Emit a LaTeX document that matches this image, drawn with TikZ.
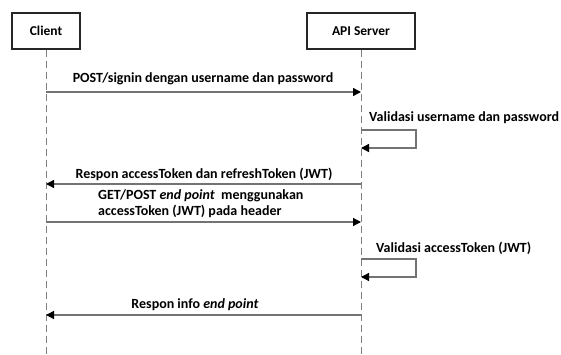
\documentclass[tikz,border=0pt]{standalone}
\usepackage{fontspec}
\setmainfont{Carlito}
\usetikzlibrary{arrows.meta, positioning}

\begin{document}
\begin{tikzpicture}[
  x=1pt, y=-1pt,
  actor/.style={draw=black!85, line width=1.4pt, minimum height=36pt, font=\bfseries\fontsize{13.5}{16}\selectfont},
  life/.style={draw=black!50, line width=1pt, dash pattern=on 7pt off 4pt},
  msg/.style={draw=black!55, line width=1.3pt, -{Triangle[length=8pt, width=8pt, color=black]}},
  lbl/.style={font=\bfseries\fontsize{14}{16}\selectfont, inner sep=0pt}
]
\useasboundingbox (0,0) rectangle (561,355);

\node[actor, minimum width=68pt] (client) at (46,31) {Client};
\node[actor, minimum width=108pt] (server) at (361,31) {API Server};

\coordinate (clientEnd) at (46,355);
\coordinate (serverEnd) at (361,355);
\draw[life] (client.south) -- (clientEnd);
\draw[life] (server.south) -- (serverEnd);

% pesan
\coordinate (c1) at (46,92);  \coordinate (s1) at (361,92);
\coordinate (s2a) at (361,130); \coordinate (s2b) at (416,130);
\coordinate (s2c) at (416,148); \coordinate (s2d) at (361,148);
\coordinate (c3) at (46,184); \coordinate (s3) at (361,184);
\coordinate (c4) at (46,222); \coordinate (s4) at (361,222);
\coordinate (s5a) at (361,259); \coordinate (s5b) at (416,259);
\coordinate (s5c) at (416,277); \coordinate (s5d) at (361,277);
\coordinate (c6) at (46,315); \coordinate (s6) at (361,315);

\draw[msg] (c1) -- (s1);
\draw[msg] (s2a) -- (s2b) -- (s2c) -- (s2d);
\draw[msg] (s3) -- (c3);
\draw[msg] (c4) -- (s4);
\draw[msg] (s5a) -- (s5b) -- (s5c) -- (s5d);
\draw[msg] (s6) -- (c6);

\node[lbl] (l1) at (203,79) {POST/signin dengan username dan password};
\node[lbl, anchor=west] (l2) at (369,118) {Validasi username dan password};
\node[lbl] (l3) at (204,174) {Respon accessToken dan refreshToken (JWT)};
\node[lbl, anchor=west, align=left] (l4) at (98,204) {GET/POST \textit{end point}\ \ menggunakan\\accessToken (JWT) pada header};
\node[lbl, anchor=west] (l5) at (376,248) {Validasi accessToken (JWT)};
\node[lbl] (l6) at (195,305) {Respon info \textit{end point}};
\end{tikzpicture}
\end{document}
